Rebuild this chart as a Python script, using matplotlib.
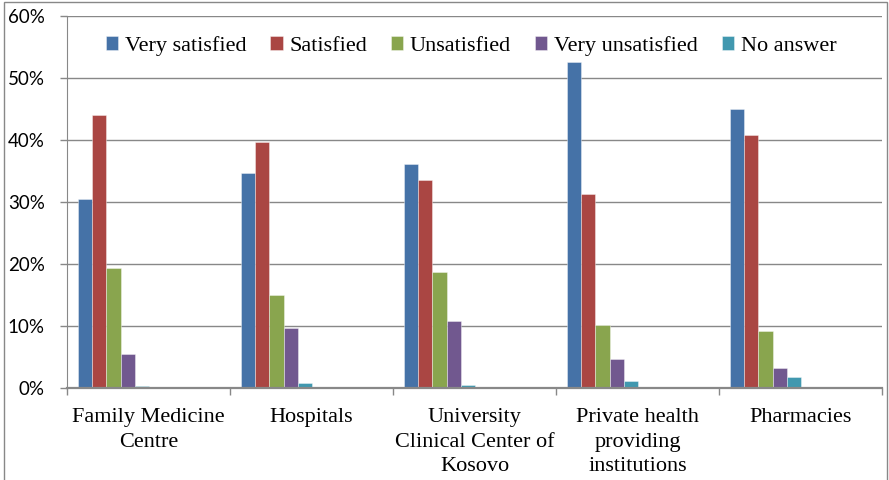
import numpy as np
import matplotlib
matplotlib.use("Agg")
import matplotlib.pyplot as plt
from matplotlib.patches import Rectangle
from matplotlib.ticker import FuncFormatter, FixedLocator

# satisfaction shares (%) per institution type
categories = ["Family Medicine\nCentre", "Hospitals",
              "University\nClinical Center of\nKosovo",
              "Private health\nproviding\ninstitutions", "Pharmacies"]
very_satisfied = [30.5, 34.6, 36.2, 52.6, 45.1]
satisfied = [44.0, 39.7, 33.5, 31.3, 40.8]
unsatisfied = [19.4, 14.9, 18.7, 10.1, 9.1]
very_unsatisfied = [5.4, 9.6, 10.8, 4.7, 3.1]
no_answer = [0.3, 0.8, 0.4, 1.0, 1.7]

series_names = ["Very satisfied", "Satisfied", "Unsatisfied",
                "Very unsatisfied", "No answer"]
series_values = [very_satisfied, satisfied, unsatisfied,
                 very_unsatisfied, no_answer]
colors = ["#4572A7", "#AA4643", "#89A54E", "#71588F", "#4198AF"]

serif = "Liberation Serif"

fig = plt.figure(figsize=(8.89, 4.80), dpi=100)
ax = fig.add_axes([67 / 889, (480 - 387.6) / 480,
                   (882 - 67) / 889, (387.6 - 16.3) / 480])

# bars sit in the left half of each category slot (room for 10 slots)
bar_w = 0.087
offset = 0.0675
x = np.arange(len(categories))
for i, (name, vals, col) in enumerate(zip(series_names, series_values, colors)):
    left = x - 0.5 + offset + i * bar_w
    ax.bar(left, vals, width=bar_w, align="edge", color=col,
           edgecolor=(1, 1, 1, 0.45), linewidth=0.6, label=name, zorder=3)

ax.set_xlim(-0.5, len(categories) - 0.5)
ax.set_ylim(0, 60)
ax.set_yticks(np.arange(0, 61, 10))
ax.yaxis.set_major_formatter(FuncFormatter(lambda v, p: f"{v:.0f}%"))
ax.grid(axis="y", color="#888888", linewidth=1.0, zorder=0)

# category boundaries get tick marks, labels go to the slot centres
ax.xaxis.set_major_locator(FixedLocator(np.arange(-0.5, len(categories), 1.0)))
ax.xaxis.set_minor_locator(FixedLocator(x))
ax.set_xticklabels([], minor=False)
ax.set_xticklabels(categories, minor=True, fontfamily=serif, fontsize=16,
                   linespacing=1.38, va="top")
ax.tick_params(axis="x", which="major", length=5, color="#888888", width=1)
ax.tick_params(axis="x", which="minor", length=0, pad=15)
ax.tick_params(axis="y", length=5, color="#888888", width=1, pad=11,
               labelsize=13.5)
for lbl in ax.get_yticklabels():
    lbl.set_fontfamily("Lato")

for side in ["top", "right"]:
    ax.spines[side].set_visible(False)
ax.spines["left"].set_color("#888888")
ax.spines["bottom"].set_color("#888888")
ax.spines["bottom"].set_linewidth(1.6)
ax.spines["bottom"].set_zorder(4)

ax.legend(ncol=5, loc="center left", bbox_to_anchor=(106 / 889, 1 - 46 / 480),
          bbox_transform=fig.transFigure,
          frameon=False, prop={"family": serif, "size": 16},
          handlelength=0.55, handleheight=0.55, handletextpad=0.3,
          columnspacing=1.08, borderaxespad=0, borderpad=0)

# outer chart frame
fig.patches.append(Rectangle((4 / 889, -0.1), (887 - 4) / 889, 1.1 - 1.5 / 480,
                             transform=fig.transFigure, fill=False,
                             edgecolor="#888888", linewidth=1.0))

fig.savefig("out.png", dpi=100)
